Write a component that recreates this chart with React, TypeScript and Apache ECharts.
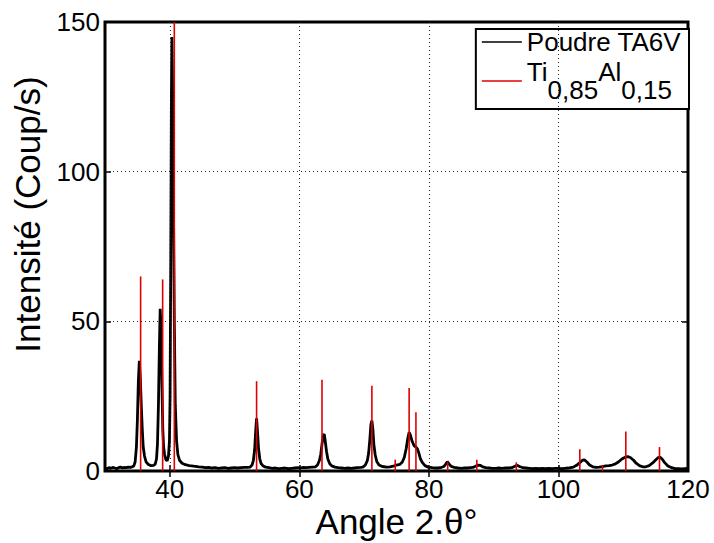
import React, { useEffect, useRef } from "react";
import * as echarts from "echarts";

// Measured diffractogram (angle 2θ, intensity in counts/s)
const powderAngles: number[] = [
  30.0, 30.3, 30.6, 30.9, 31.2, 31.5, 31.8, 32.1, 32.4, 32.7, 33.0, 33.3, 33.6, 33.9, 34.2,
  34.45, 34.65, 34.85, 35.0, 35.15, 35.3, 35.45, 35.6, 35.75, 35.9, 36.1, 36.35, 36.7, 37.1, 37.5,
  37.75, 37.95, 38.1, 38.25, 38.4, 38.52, 38.65, 38.78, 38.92, 39.05, 39.2, 39.4, 39.6, 39.8, 39.95,
  40.05, 40.15, 40.25, 40.33, 40.42, 40.55, 40.7, 40.85, 41.05, 41.25, 41.5, 41.9, 42.4, 43.0, 43.7,
  44.5, 45.0, 45.5, 46.0, 46.5, 47.0, 47.5, 48.0, 48.5, 49.0, 49.5, 50.0, 50.5, 51.0, 51.5, 52.0,
  52.4, 52.7, 52.9, 53.1, 53.25, 53.4, 53.55, 53.7, 53.9, 54.1, 54.4, 54.8, 55.3, 55.8, 56.3, 56.8,
  57.3, 57.8, 58.3, 58.8, 59.3, 59.8, 60.2, 60.6, 61.0, 61.5, 62.0, 62.5, 62.8, 63.1, 63.3, 63.5,
  63.7, 63.85, 64.0, 64.2, 64.4, 64.7, 65.0, 65.5, 66.0, 66.5, 67.0, 67.5, 68.0, 68.5, 69.0, 69.5,
  69.8, 70.2, 70.5, 70.7, 70.9, 71.05, 71.2, 71.35, 71.5, 71.7, 71.95, 72.3, 72.8, 73.5, 74.0, 74.5,
  75.0, 75.5, 75.9, 76.2, 76.5, 76.75, 76.95, 77.15, 77.4, 77.7, 78.0, 78.2, 78.45, 78.7, 79.0, 79.4,
  79.9, 80.5, 81.0, 81.4, 81.8, 82.3, 82.6, 82.85, 83.1, 83.4, 83.9, 84.5, 85.0, 85.5, 86.0, 86.4,
  86.8, 87.2, 87.6, 87.9, 88.3, 88.8, 89.3, 89.8, 90.3, 90.8, 91.3, 91.8, 92.3, 92.8, 93.2, 93.6,
  94.0, 94.5, 95.0, 95.5, 96.0, 96.5, 97.0, 97.5, 98.0, 98.5, 99.0, 99.5, 100.0, 100.5, 101.0, 101.5,
  102.3, 102.8, 103.3, 103.7, 104.0, 104.4, 104.8, 105.3, 105.8, 106.3, 106.8, 107.3, 107.8, 108.3, 108.8, 109.3,
  109.8, 110.3, 110.7, 111.1, 111.6, 112.0, 112.5, 113.0, 113.5, 114.0, 114.5, 115.0, 115.4, 115.7, 116.0, 116.4,
  116.9, 117.5, 118.0, 118.5, 119.0, 119.5, 120.0,
];
const powderCounts: number[] = [
  0.9, 0.7, 1.1, 0.9, 1.2, 1.0, 0.8, 1.1, 1.3, 1.0, 1.2, 1.1, 1.3, 1.2, 1.4,
  1.7, 3.0, 8.0, 17.0, 30.0, 36.8, 31.0, 22.0, 14.0, 8.0, 5.0, 3.0, 2.2, 1.8, 1.9,
  2.3, 4.0, 9.0, 22.0, 42.0, 54.2, 48.0, 30.0, 14.0, 8.0, 5.5, 3.8, 3.4, 5.0, 10.0,
  25.0, 70.0, 125.0, 145.0, 130.0, 95.0, 50.0, 22.0, 10.0, 5.5, 3.6, 2.6, 2.1, 1.8, 1.6,
  1.4, 1.3, 1.1, 1.2, 1.0, 1.1, 0.9, 1.0, 1.1, 0.9, 1.0, 1.1, 1.0, 1.1, 1.2, 1.2,
  1.3, 2.0, 3.5, 7.0, 13.0, 17.6, 13.0, 7.5, 4.0, 2.5, 1.7, 1.3, 1.1, 0.9, 1.0, 0.8,
  0.9, 1.0, 0.8, 0.9, 1.0, 1.1, 1.0, 1.2, 1.1, 1.2, 1.3, 1.4, 2.0, 3.5, 5.5, 9.0,
  12.0, 12.3, 10.0, 6.5, 4.0, 2.4, 1.7, 1.3, 1.1, 1.0, 0.9, 1.0, 0.9, 1.0, 1.1, 1.2,
  1.3, 2.0, 3.5, 6.0, 11.0, 15.5, 16.8, 14.0, 9.0, 5.5, 3.2, 2.0, 1.5, 1.3, 1.4, 1.6,
  2.0, 2.2, 3.0, 4.5, 7.5, 11.0, 12.9, 12.0, 10.0, 8.5, 8.0, 7.5, 6.0, 4.0, 2.8, 1.8,
  1.3, 1.1, 1.0, 1.0, 1.1, 1.5, 2.3, 3.1, 2.4, 1.6, 1.2, 1.0, 0.9, 1.0, 1.0, 1.1,
  1.2, 1.6, 2.0, 1.9, 1.4, 1.1, 1.0, 0.9, 0.9, 1.0, 0.9, 1.0, 1.0, 1.1, 1.5, 1.9,
  1.5, 1.1, 1.0, 0.9, 0.8, 0.9, 0.8, 0.9, 0.8, 0.9, 0.8, 0.9, 0.9, 0.8, 0.9, 1.0,
  1.3, 1.9, 2.8, 3.6, 3.7, 3.0, 2.0, 1.4, 1.2, 1.3, 1.5, 1.7, 1.8, 2.0, 2.4, 3.1,
  4.0, 4.6, 4.8, 4.5, 3.6, 2.6, 1.8, 1.4, 1.4, 1.8, 2.6, 3.7, 4.5, 4.6, 4.0, 2.8,
  1.7, 1.1, 0.8, 0.8, 0.7, 0.8, 0.9,
];

// Reference pattern Ti0,85Al0,15 (stick positions and heights)
const refAngles: number[] = [35.5, 38.9, 40.7, 53.4, 63.5, 71.2, 74.8, 76.95, 78.0, 82.9, 87.4, 93.5, 103.3, 106.8, 110.4, 115.6];
const refCounts: number[] = [65, 64, 150, 30, 30.5, 28.5, 3.8, 27.7, 19.6, 3.1, 3.8, 2.9, 7.3, 2.0, 13.2, 8.0];

const xTicks: number[] = [40, 60, 80, 100, 120];
const yTicks: number[] = [0, 50, 100, 150];
const xGrid: number[] = [40, 60, 80, 100];
const yGrid: number[] = [50, 100];

const FONT = "Liberation Sans, Arial, sans-serif";

export default function App() {
  const ref = useRef<HTMLDivElement>(null);
  useEffect(() => {
    if (!ref.current) return;
    const chart = echarts.init(ref.current, undefined, { renderer: "svg" });
    const powder = powderAngles.map((a, i) => [a, powderCounts[i]]);
    const sticks = refAngles.map((a, i) => [a, refCounts[i]]);
    const dotted = { color: "#222", width: 1, type: [1, 3] as any };
    const tickCommon = { inside: true, length: 6, lineStyle: { color: "#000", width: 1.5 } };
    chart.setOption({
      animation: false,
      backgroundColor: "#fff",
      textStyle: { fontFamily: FONT },
      grid: {
        left: 105, right: 26, top: 22, bottom: 72,
        outerBoundsMode: "none",
        containLabel: false,
        show: true, borderColor: "#000", borderWidth: 3, backgroundColor: "transparent",
      },
      legend: {
        orient: "vertical",
        right: 25,
        top: 29,
        backgroundColor: "#fff",
        borderColor: "#000",
        borderWidth: 2,
        borderRadius: 0,
        padding: [0, 8, 6, 6],
        itemGap: 4,
        itemWidth: 40,
        itemHeight: 1.5,
        icon: "rect",
        data: ["Poudre TA6V", "Ti0,85Al0,15"],
        formatter: (name: string) =>
          name === "Poudre TA6V" ? "{p|Poudre TA6V}" : "{a|Ti}{b|0,85}{a|Al}{b|0,15}",
        textStyle: {
          color: "#000",
          fontFamily: FONT,
          fontSize: 26,
          rich: {
            p: { fontSize: 26, fontFamily: FONT, color: "#000", lineHeight: 32 },
            a: { fontSize: 26, fontFamily: FONT, color: "#000", lineHeight: 28, padding: [0, 0, 18, 0] },
            b: { fontSize: 26, fontFamily: FONT, color: "#000", lineHeight: 28, padding: [18, 0, 0, 0] },
          },
        },
      },
      xAxis: [
        {
          type: "value",
          min: 30,
          max: 120,
          interval: 10,
          name: "Angle 2.θ°",
          nameLocation: "middle",
          nameGap: 33,
          nameMoveOverlap: false,
          nameTextStyle: { fontSize: 35, color: "#000", fontFamily: FONT },
          axisLine: { show: false },
          axisTick: { ...tickCommon, customValues: xGrid },
          axisLabel: {
            customValues: xTicks,
            formatter: (v: number) => (xTicks.indexOf(v) >= 0 ? String(v) : ""),
            fontSize: 26,
            lineHeight: 24,
            color: "#000",
            margin: 6,
            fontFamily: FONT,
          },
          splitLine: { show: false },
        },
        {
          type: "value",
          position: "top",
          min: 30,
          max: 120,
          interval: 10,
          axisLine: { show: false },
          axisTick: { ...tickCommon, customValues: xGrid },
          axisLabel: { show: false },
          splitLine: { show: false },
        },
      ],
      yAxis: [
        {
          type: "value",
          min: 0,
          max: 150,
          interval: 50,
          name: "Intensité (Coup/s)",
          nameLocation: "middle",
          nameGap: 60,
          nameMoveOverlap: false,
          nameTextStyle: { fontSize: 35, color: "#000", fontFamily: FONT, padding: [0, 0, 0, 64] },
          axisLine: { show: false },
          axisTick: { ...tickCommon },
          axisLabel: { fontSize: 26, color: "#000", margin: 5, fontFamily: FONT, customValues: yTicks },
          splitLine: { show: false },
        },
        {
          type: "value",
          position: "right",
          min: 0,
          max: 150,
          interval: 50,
          axisLine: { show: false },
          axisTick: { ...tickCommon },
          axisLabel: { show: false },
          splitLine: { show: false },
        },
      ],
      series: [
        {
          name: "Poudre TA6V",
          type: "line",
          data: powder,
          showSymbol: false,
          symbol: "none",
          color: "#000",
          lineStyle: { color: "#000", width: 2.8 },
          z: 3,
          markLine: {
            silent: true,
            symbol: "none",
            label: { show: false },
            lineStyle: dotted,
            data: [
              ...xGrid.map((v) => ({ xAxis: v })),
              ...yGrid.map((v) => ({ yAxis: v })),
            ],
          },
        },
        {
          name: "Ti0,85Al0,15",
          type: "custom",
          color: "#e00000",
          data: sticks,
          clip: true,
          z: 4,
          renderItem: (params: any, api: any) => {
            const x = api.value(0);
            const h = api.value(1);
            const p0 = api.coord([x, 0]);
            const p1 = api.coord([x, h]);
            return {
              type: "line",
              shape: { x1: p0[0], y1: p0[1], x2: p1[0], y2: p1[1] },
              style: { stroke: "#e00000", lineWidth: 1.6 },
            };
          },
        },
      ],
    });
    return () => chart.dispose();
  }, []);
  return <div ref={ref} style={{ width: 714, height: 543, position: "absolute", left: 0, top: 0 }} />;
}
